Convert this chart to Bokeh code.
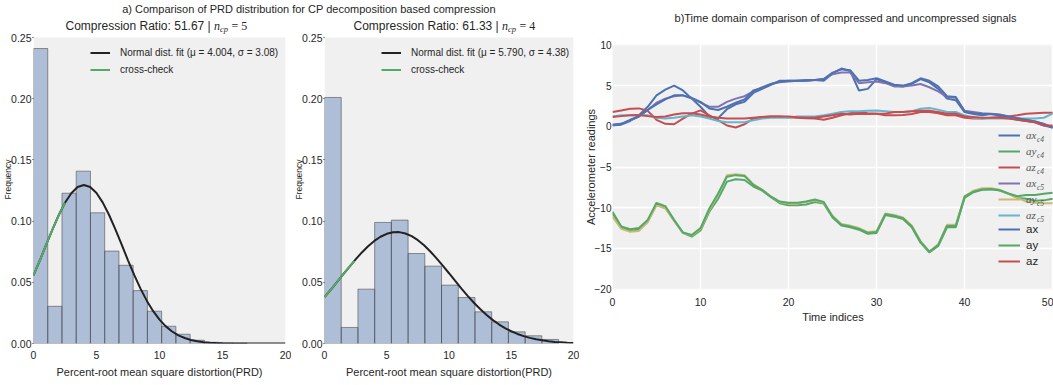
from bokeh.plotting import figure
from bokeh.models import (Label, Legend, LegendItem, Range1d, FixedTicker, BoxAnnotation,
                          PrintfTickFormatter, CustomJSTickFormatter)
from bokeh.layouts import row, column
from bokeh.embed import file_html
from bokeh.resources import INLINE

SANS = "Liberation Sans"
SERIF = "Liberation Serif"
BG = "#F0F0F0"
TXT = "#262626"

# ---------------- (a) PRD histograms ----------------
compression_ratio = [51.67, 61.33]
n_cp = [5, 4]
fit_mu = [4.004, 5.790]
fit_sigma = [3.08, 4.38]

hist1_bin_width = 1.13
hist1_freq = [0.241, 0.0304, 0.1228, 0.1408, 0.1068, 0.0755, 0.0639, 0.0432,
              0.0264, 0.0141, 0.0076, 0.0027, 0.0010, 0.0005, 0.0003]
hist2_bin_width = 1.343
hist2_freq = [0.201, 0.0131, 0.0444, 0.0989, 0.1008, 0.0735, 0.0632, 0.0477,
              0.0376, 0.0259, 0.0177, 0.0095, 0.0063, 0.0033]

fit_x = [0, 0.5, 1, 1.5, 2, 2.5, 3, 3.5, 4, 4.5, 5, 5.5, 6, 6.5, 7, 7.5, 8, 8.5,
         9, 9.5, 10, 10.5, 11, 11.5, 12, 12.5, 13, 13.5, 14, 14.5, 15, 15.5, 16,
         16.5, 17, 17.5, 18, 18.5, 19, 19.5, 20]
fit1_y = [0.0556, 0.0678, 0.0805, 0.0931, 0.1048, 0.1150, 0.1228, 0.1278, 0.1295,
          0.1279, 0.1229, 0.1151, 0.1050, 0.0933, 0.0807, 0.0680, 0.0558, 0.0446,
          0.0348, 0.0264, 0.0195, 0.0140, 0.0098, 0.0067, 0.0045, 0.0029, 0.0018,
          0.0011, 0.0007, 0.0004, 0.0002, 0.0001, 0.0001, 0, 0, 0, 0, 0, 0, 0, 0]
fit2_y = [0.0380, 0.0439, 0.0501, 0.0564, 0.0626, 0.0687, 0.0744, 0.0794, 0.0838,
          0.0872, 0.0896, 0.0909, 0.0910, 0.0899, 0.0877, 0.0844, 0.0802, 0.0752,
          0.0696, 0.0636, 0.0574, 0.0511, 0.0449, 0.0389, 0.0333, 0.0282, 0.0235,
          0.0193, 0.0157, 0.0126, 0.0100, 0.0078, 0.0060, 0.0046, 0.0034, 0.0026,
          0.0019, 0.0013, 0.0010, 0.0007, 0.0005]
check1_x = [0, 0.5, 1.0, 1.5, 2.0, 2.5]
check1_y = [0.0556, 0.0678, 0.0805, 0.0931, 0.1048, 0.1150]
check2_x = [0, 0.5, 1.0, 1.5, 2.0, 2.4]
check2_y = [0.0380, 0.0439, 0.0501, 0.0564, 0.0626, 0.0675]

hist_xticks = [0, 5, 10, 15, 20]
hist_yticks = [0.0, 0.05, 0.10, 0.15, 0.20, 0.25]

# ---------------- (b) time-domain signals ----------------
t_idx = list(range(51))
ax_c4 = [0.1, 0.2, 0.65, 1.35, 2.4, 3.8, 4.5, 5.0, 4.4, 3.4, 2.4,
         1.2, 1.0, 2.1, 2.7, 3.0, 4.1, 4.6, 5.1, 5.6, 5.6,
         5.6, 5.7, 5.7, 5.6, 6.5, 7.1, 6.8, 4.4, 4.6, 5.8,
         5.4, 5.0, 4.9, 5.2, 5.8, 5.4, 4.6, 3.4, 3.2, 1.75,
         1.5, 1.35, 1.5, 1.35, 1.05, 0.8, 0.65, 0.5, 0.1, -0.15]
ay_c4 = [-10.7, -12.5, -12.8, -12.7, -11.7, -9.6, -10.0, -11.6, -13.1, -13.55, -12.8,
         -10.5, -8.9, -6.8, -6.5, -6.6, -7.4, -7.9, -8.7, -9.45, -9.7,
         -9.7, -9.6, -9.3, -9.5, -11.2, -12.2, -12.4, -12.7, -13.2, -13.1,
         -10.9, -11.1, -11.4, -12.4, -14.3, -15.5, -14.7, -12.4, -12.4, -8.8,
         -8.1, -7.8, -7.75, -7.9, -8.3, -8.8, -8.9, -9.15, -9.1, -8.9]
az_c4 = [1.75, 1.95, 2.15, 2.2, 1.9, 0.8, 0.3, 0.25, 0.95, 1.55, 1.95,
         1.35, 0.75, 0.1, -0.15, 0.25, 0.95, 1.15, 1.2, 1.2, 1.1,
         1.05, 1.0, 0.95, 0.8, 1.05, 1.35, 1.6, 1.75, 1.6, 1.55,
         1.35, 1.35, 1.4, 1.5, 1.75, 1.75, 1.6, 1.35, 1.35, 1.05,
         0.95, 0.95, 1.05, 1.15, 1.2, 1.35, 1.55, 1.6, 1.65, 1.65]
ax_c5 = [0.15, 0.3, 0.7, 1.2, 2.0, 2.9, 3.4, 3.7, 3.8, 3.4, 2.9,
         2.4, 2.4, 3.0, 3.4, 3.7, 4.3, 4.8, 5.2, 5.4, 5.5,
         5.6, 5.6, 5.7, 5.8, 6.4, 6.6, 6.6, 5.3, 5.4, 5.5,
         5.3, 4.9, 4.9, 5.0, 5.2, 4.8, 4.3, 3.6, 3.5, 1.9,
         1.75, 1.6, 1.55, 1.45, 1.2, 1.0, 0.8, 0.6, 0.3, -0.1]
ay_c5 = [-11.1, -12.6, -12.95, -12.85, -11.8, -9.7, -10.1, -11.6, -13.1, -13.4, -12.6,
         -10.3, -8.4, -6.0, -5.9, -6.0, -7.1, -7.8, -8.6, -9.3, -9.5,
         -9.5, -9.3, -9.1, -9.4, -11.0, -12.0, -12.2, -12.5, -13.0, -12.9,
         -10.7, -10.9, -11.2, -12.2, -14.1, -15.4, -14.5, -12.1, -12.1, -8.6,
         -7.9, -7.6, -7.6, -7.8, -8.3, -8.8, -9.25, -9.4, -9.45, -9.45]
az_c5 = [1.2, 1.35, 1.35, 1.35, 1.35, 1.05, 0.95, 1.05, 1.2, 1.35, 1.2,
         0.95, 0.65, 0.5, 0.5, 0.5, 0.75, 0.95, 1.05, 1.05, 1.05,
         1.2, 1.2, 1.2, 1.35, 1.55, 1.75, 1.85, 1.85, 1.9, 1.95,
         1.85, 1.75, 1.75, 1.85, 2.15, 2.25, 2.05, 1.75, 1.75, 1.35,
         1.05, 0.95, 0.95, 0.95, 0.95, 0.95, 0.95, 0.95, 1.05, 1.55]
ax_raw = [0.2, 0.3, 0.8, 1.2, 2.0, 2.7, 3.3, 3.8, 3.8, 3.5, 3.0,
          2.2, 2.0, 2.4, 2.9, 3.3, 4.4, 4.7, 5.2, 5.5, 5.6,
          5.6, 5.6, 5.7, 5.8, 6.6, 7.0, 6.9, 5.6, 5.7, 5.9,
          5.5, 5.1, 5.0, 5.3, 5.9, 5.6, 4.9, 3.7, 3.6, 1.8,
          1.6, 1.5, 1.5, 1.4, 1.2, 1.0, 0.8, 0.6, 0.3, -0.2]
ay_raw = [-10.5, -12.3, -12.65, -12.5, -11.5, -9.4, -9.8, -11.5, -13.05, -13.35, -12.5,
          -10.1, -8.25, -6.2, -6.0, -6.1, -7.2, -7.8, -8.65, -9.25, -9.4,
          -9.4, -9.25, -9.0, -9.3, -11.1, -12.1, -12.3, -12.6, -13.1, -13.0,
          -10.8, -11.0, -11.3, -12.3, -14.2, -15.4, -14.6, -12.25, -12.25, -8.65,
          -8.05, -7.75, -7.7, -7.85, -8.25, -8.6, -8.45, -8.45, -8.3, -8.15]
az_raw = [1.15, 1.25, 1.35, 1.4, 1.25, 1.15, 1.2, 1.45, 1.6, 1.6, 1.45,
          1.2, 1.05, 0.95, 0.95, 0.95, 1.05, 1.15, 1.2, 1.2, 1.2,
          1.1, 1.05, 1.05, 1.2, 1.35, 1.55, 1.45, 1.55, 1.5, 1.55,
          1.55, 1.75, 1.75, 1.85, 1.9, 1.9, 1.75, 1.55, 1.55, 1.2,
          1.15, 1.05, 1.05, 1.05, 0.95, 0.8, 0.65, 0.5, 0.1, 0.1]

series_values = [ax_c4, ay_c4, az_c4, ax_c5, ay_c5, az_c5, ax_raw, ay_raw, az_raw]
series_names = ["ax", "ay", "az", "ax", "ay", "az", "ax", "ay", "az"]
series_subs = ["c4", "c4", "c4", "c5", "c5", "c5", "", "", ""]
series_colors = ["#4C72B0", "#55A868", "#C44E52", "#8172B2", "#CCB974", "#64B5CD",
                 "#4C72B0", "#55A868", "#C44E52"]
ts_xticks = [0, 10, 20, 30, 40, 50]
ts_yticks = [-20, -15, -10, -5, 0, 5, 10]


def lbl(p, x, y, text, size, font=SANS, style="normal", align="left",
        baseline="middle", color=TXT):
    p.add_layout(Label(x=x, y=y, x_units="screen", y_units="screen", text=text,
                       text_font=font, text_font_size=size, text_font_style=style,
                       text_align=align, text_baseline=baseline, text_color=color))


def style_axes(p, tick_size):
    for ax in (p.xaxis[0], p.yaxis[0]):
        ax.axis_line_color = None
        ax.minor_tick_line_color = None
        ax.major_tick_in = 0
        ax.major_label_text_font = SANS
        ax.major_label_text_font_size = tick_size
        ax.major_label_text_color = TXT
        ax.major_tick_line_color = "#333333"
        ax.axis_label_text_font = SANS
        ax.axis_label_text_font_style = "normal"
        ax.axis_label_text_color = TXT
    p.outline_line_color = None
    p.border_fill_color = "white"


def text_strip(width, height):
    s = figure(width=width, height=height, x_range=Range1d(0, 1), y_range=Range1d(0, 1),
               output_backend="svg", toolbar_location=None, min_border=0,
               x_axis_type=None, y_axis_type=None)
    s.outline_line_color = None
    s.xgrid.visible = False
    s.ygrid.visible = False
    return s


# plot area 0..0.25 occupies screen rows 37..343; frame reaches up to row 15 to hold the title
HIST_TOP = 0.25 * (343 - 15) / (343 - 37)


def hist_fig(width, left_b, right_b, bin_w, freq, fit_y, cx, cy, k, title_x0):
    p = figure(width=width, height=370, x_range=Range1d(0, 20), y_range=Range1d(0, HIST_TOP),
               output_backend="svg", toolbar_location=None,
               min_border_left=left_b, min_border_right=right_b,
               min_border_top=0, min_border_bottom=42)
    style_axes(p, "10.5px")
    p.background_fill_color = "white"
    p.add_layout(BoxAnnotation(left=0, right=20, bottom=0, top=0.25, fill_color=BG,
                               fill_alpha=1, line_color=None, level="underlay"))
    p.xgrid.visible = False
    p.ygrid.visible = False
    p.xaxis.ticker = FixedTicker(ticks=hist_xticks)
    p.yaxis.ticker = FixedTicker(ticks=hist_yticks)
    p.yaxis.formatter = PrintfTickFormatter(format="%.2f")
    p.xaxis.major_tick_out = 0
    p.xaxis.major_label_standoff = 7
    p.yaxis.major_tick_out = 1
    p.yaxis.major_label_standoff = 1
    p.xaxis.axis_label = "Percent-root mean square distortion(PRD)"
    p.xaxis.axis_label_text_font_size = "11px"
    p.xaxis.axis_label_standoff = 4
    p.yaxis.axis_label = "Frequency"
    p.yaxis.axis_label_text_font_size = "8.5px"
    p.yaxis.axis_label_standoff = -5
    lefts = [i * bin_w for i in range(len(freq))]
    rights = [l + bin_w for l in lefts]
    p.quad(left=lefts, right=rights, bottom=0, top=freq, fill_color="#4C72B0",
           fill_alpha=0.4, line_color="#444444", line_alpha=0.55, line_width=1)
    r_fit = p.line(fit_x, fit_y, line_color="#222222", line_width=2)
    r_chk = p.line(cx, cy, line_color="#55A868", line_width=2)
    leg = Legend(items=[
        LegendItem(label=f"Normal dist. fit (μ = {fit_mu[k]:.3f}, σ = {fit_sigma[k]:.2f})",
                   renderers=[r_fit]),
        LegendItem(label="cross-check", renderers=[r_chk])],
        location=(57, 265), glyph_width=20, glyph_height=17, label_height=17,
        label_standoff=10, spacing=0, padding=0, margin=0,
        background_fill_alpha=0, border_line_alpha=0,
        label_text_font=SANS, label_text_font_size="10px", label_text_color=TXT)
    p.add_layout(leg)
    # title: Compression Ratio: xx | n_cp = k  (inside the frame, above the plot area)
    x0, ty = title_x0, 318
    lbl(p, x0, ty, f"Compression Ratio: {compression_ratio[k]} | ", "12px")
    lbl(p, x0 + 148.5, ty, "n", "12px", font=SERIF, style="italic")
    lbl(p, x0 + 154.5, ty - 3.5, "cp", "8.5px", font=SERIF, style="italic")
    lbl(p, x0 + 166, ty, f"= {n_cp[k]}", "12px", font=SERIF)
    return p


h1 = hist_fig(291, 33, 6, hist1_bin_width, hist1_freq, fit1_y, check1_x, check1_y, 0, 32)
h2 = hist_fig(288, 33, 6, hist2_bin_width, hist2_freq, fit2_y, check2_x, check2_y, 1, 29)

sup = text_strip(579, 15)
lbl(sup, 308.5, 7, "a) Comparison of PRD distribution for CP decomposition based compression",
    "11px", align="center")

ts_head = text_strip(474, 30)
lbl(ts_head, 233, 13, "b)Time domain comparison of compressed and uncompressed signals",
    "11px", align="center")

# ---------------- time series figure ----------------
ts = figure(width=474, height=355, x_range=Range1d(0, 50.1), y_range=Range1d(-20.05, 10.05),
            output_backend="svg", toolbar_location=None,
            min_border_left=33, min_border_right=0, min_border_top=14, min_border_bottom=96)
style_axes(ts, "10px")
ts.background_fill_color = BG
ts.xaxis.ticker = FixedTicker(ticks=ts_xticks)
ts.yaxis.ticker = FixedTicker(ticks=ts_yticks)
ts.yaxis.formatter = CustomJSTickFormatter(
    code="return (tick < 0 ? '\u2212' : '') + Math.abs(tick).toString();")
ts.xaxis.major_label_text_font_size = "10.5px"
ts.xaxis.major_tick_out = 0
ts.yaxis.major_tick_out = 0
ts.xaxis.major_label_standoff = 8
ts.yaxis.major_label_standoff = 1
ts.xaxis.axis_label = "Time indices"
ts.xaxis.axis_label_text_font_size = "11px"
ts.xaxis.axis_label_standoff = 2
ts.yaxis.axis_label = "Accelerometer readings"
ts.yaxis.axis_label_text_font_size = "11px"
ts.yaxis.axis_label_standoff = -5
ts.xgrid.grid_line_color = "white"
ts.ygrid.grid_line_color = "white"
ts.xgrid.grid_line_width = 1.5
ts.ygrid.grid_line_width = 1.5

renderers = []
for vals, col in zip(series_values, series_colors):
    renderers.append(ts.line(t_idx, vals, line_color=col, line_width=2))

leg_math = Legend(items=[LegendItem(label=series_names[i], renderers=[renderers[i]]) for i in range(6)],
                  location=(386, 66), glyph_width=22, glyph_height=16, label_height=16,
                  label_standoff=6, spacing=0, padding=0, margin=0,
                  background_fill_alpha=0, border_line_alpha=0,
                  label_text_font=SERIF, label_text_font_style="italic",
                  label_text_font_size="11px", label_text_color="#555555")
leg_raw = Legend(items=[LegendItem(label=series_names[i], renderers=[renderers[i]]) for i in range(6, 9)],
                 location=(386, 20), glyph_width=22, glyph_height=16, label_height=16,
                 label_standoff=6, spacing=0, padding=0, margin=0,
                 background_fill_alpha=0, border_line_alpha=0,
                 label_text_font=SANS, label_text_font_size="11.5px", label_text_color=TXT)
ts.add_layout(leg_math)
ts.add_layout(leg_raw)
for i in range(6):
    lbl(ts, 424.5, 154 - 16 * i - 3.5, series_subs[i], "7.5px", font=SERIF,
        style="italic", color="#555555")

layout = row(column(sup, row(h1, h2)), column(ts_head, ts))
open("out.html", "w").write(file_html(layout, INLINE))
